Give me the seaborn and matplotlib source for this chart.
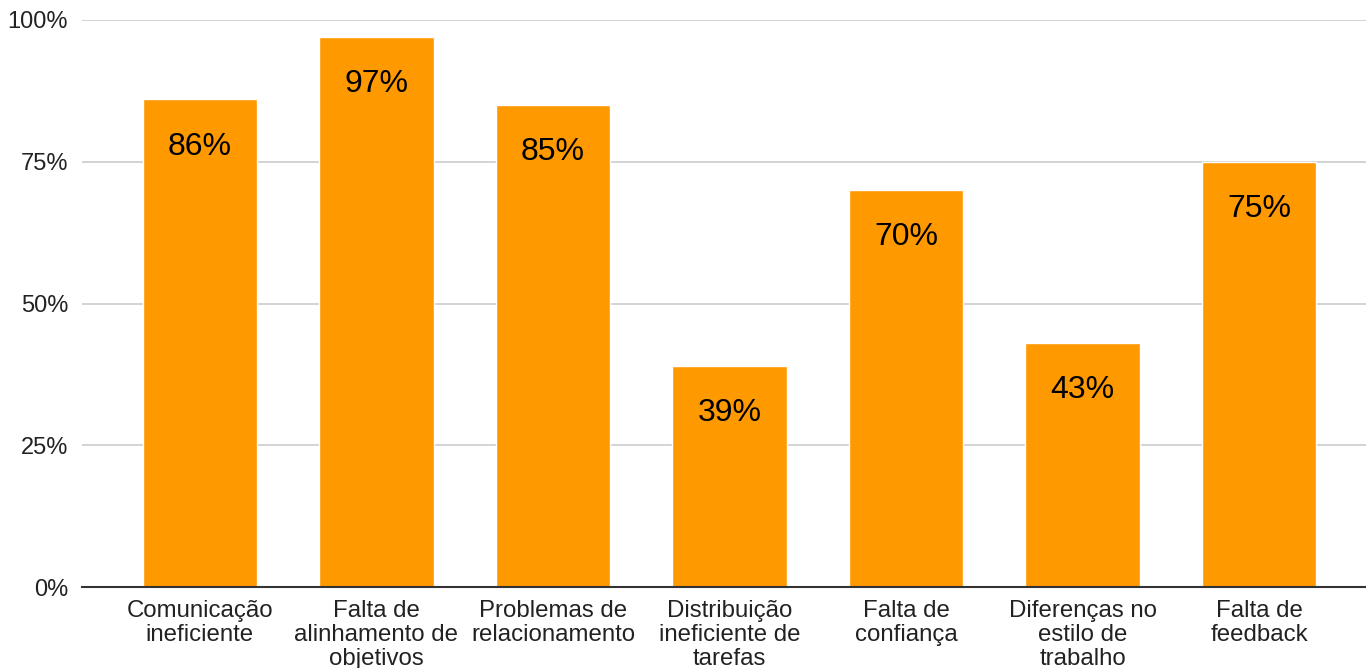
import matplotlib
matplotlib.use("Agg")
import matplotlib.pyplot as plt
import seaborn as sns
import pandas as pd
from matplotlib.ticker import FuncFormatter

categories = [
    "Comunicação\nineficiente",
    "Falta de\nalinhamento de\nobjetivos",
    "Problemas de\nrelacionamento",
    "Distribuição\nineficiente de\ntarefas",
    "Falta de\nconfiança",
    "Diferenças no\nestilo de\ntrabalho",
    "Falta de\nfeedback",
]
values = [86, 97, 85, 39, 70, 43, 75]
y_ticks = [0, 25, 50, 75, 100]

sns.set_theme(style="white")
plt.rcParams["font.family"] = ["Liberation Sans", "DejaVu Sans"]

fig = plt.figure(figsize=(13.66, 6.68), dpi=100)
ax = fig.add_axes([82 / 1366, (668 - 587) / 668, 1 - 82 / 1366, (587 - 20) / 668])

df = pd.DataFrame({"cat": categories, "val": values})
sns.barplot(data=df, x="cat", y="val", color="#FF9900", saturation=1, width=0.65, ax=ax)

for p, v in zip(ax.patches, values):
    ax.annotate(f"{v}%", (p.get_x() + p.get_width() / 2, p.get_height()),
                xytext=(0, -31.5), textcoords="offset points",
                ha="center", va="center_baseline", fontsize=23, color="#000000")

ax.set_ylim(0, 100)
ax.set_xlim(-0.668, 6.606)
ax.set_yticks(y_ticks)
ax.yaxis.set_major_formatter(FuncFormatter(lambda v, _: f"{int(v)}%"))
ax.yaxis.grid(True, color="#cccccc", linewidth=1.2)
ax.set_axisbelow(True)
for s in ["top", "right", "left"]:
    ax.spines[s].set_visible(False)
ax.spines["bottom"].set_color("#333333")
ax.spines["bottom"].set_linewidth(1.5)
ax.set_xlabel("")
ax.set_ylabel("")
ax.tick_params(axis="y", length=0, pad=10, labelsize=17, labelcolor="#222222")
ax.tick_params(axis="x", length=0, pad=9.5, labelsize=17.3, labelcolor="#222222")
for lbl in ax.get_xticklabels():
    lbl.set_linespacing(1.1)

fig.savefig("out.png", dpi=100)
